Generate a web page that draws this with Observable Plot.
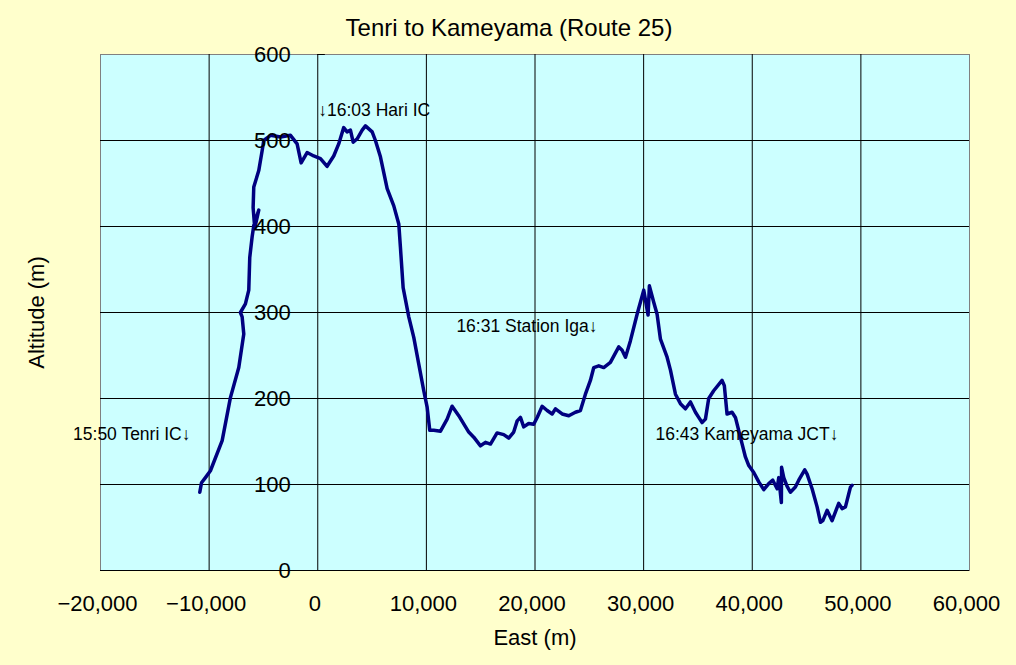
<!DOCTYPE html>
<html>
<head>
<meta charset="utf-8">
<script src="https://cdn.jsdelivr.net/npm/d3@7"></script>
<script src="https://cdn.jsdelivr.net/npm/@observablehq/plot@0.6"></script>
<style>
  html, body { margin: 0; padding: 0; background: #FFFFCC; }
  #chart { width: 1016px; height: 665px; }
</style>
</head>
<body>
<div id="chart"></div>
<script>
const title = "Tenri to Kameyama (Route 25)";
const xLabel = "East (m)";
const yLabel = "Altitude (m)";
const xTicks = [-20000, -10000, 0, 10000, 20000, 30000, 40000, 50000, 60000];
const yTicks = [0, 100, 200, 300, 400, 500, 600];

const east = [-10860, -10700, -10340, -9880, -8800, -8040, -7270, -6810, -6960, -7120, -6660, -6350, -6260, -6040, -5890, -5430, -5800, -5950, -5890, -5430, -5120, -4970, -4350, -3430, -2510, -1900, -1530, -980, -370, 250, 860, 1470, 1930, 2390, 2700, 3010, 3260, 3630, 4090, 4390, 5010, 5310, 5770, 6390, 7000, 7460, 7610, 7860, 8380, 8840, 9300, 9760, 10070, 10310, 10680, 11300, 11910, 12370, 12980, 13900, 14360, 14980, 15440, 15900, 16510, 17120, 17580, 18040, 18360, 18660, 18960, 19420, 19880, 20200, 20660, 21120, 21580, 21880, 22500, 23110, 23720, 24180, 24640, 25100, 25410, 25870, 26330, 26940, 27710, 28020, 28330, 28780, 29400, 30010, 30410, 30530, 30930, 31240, 31550, 32160, 32470, 32930, 33390, 33850, 34310, 34770, 35070, 35380, 35690, 35990, 36450, 37220, 37430, 37680, 38140, 38450, 38910, 39070, 39370, 39680, 40140, 40600, 41060, 41520, 41890, 42290, 42440, 42680, 42700, 42900, 43200, 43510, 43970, 44280, 44830, 45050, 45510, 45970, 46280, 46500, 46890, 47350, 47650, 47960, 48270, 48580, 48880, 49040, 49190];
const altitude = [91, 102, 108, 116, 151, 201, 236, 275, 295, 300, 310, 326, 364, 388, 401, 419, 398, 422, 446, 465, 488, 500, 506, 504, 506, 496, 474, 486, 482, 479, 470, 482, 496, 515, 510, 512, 498, 502, 512, 517, 510, 500, 481, 444, 424, 403, 376, 329, 295, 271, 240, 209, 190, 163, 163, 162, 176, 191, 180, 161, 155, 145, 149, 147, 160, 158, 154, 161, 174, 178, 167, 171, 170, 178, 191, 186, 182, 188, 182, 180, 184, 186, 205, 221, 236, 238, 236, 242, 260, 256, 248, 267, 298, 326, 297, 331, 312, 298, 269, 248, 233, 205, 194, 188, 196, 184, 178, 172, 176, 200, 209, 221, 215, 182, 184, 178, 155, 147, 132, 122, 114, 103, 94, 101, 105, 95, 108, 79, 120, 108, 98, 91, 97, 105, 117, 112, 95, 74, 56, 58, 70, 58, 68, 78, 72, 74, 89, 97, 99];

const startNoteText = "↓16:03 Hari IC";
const startNoteX = 50;
const startNoteY = 535;
const noteTexts = ["15:50 Tenri IC↓", "16:31 Station Iga↓", "16:43 Kameyama JCT↓"];
const noteX = [-11720, 25750, 47930];
const noteY = [158, 284, 158];

const profile = east.map((e, i) => ({east: e, alt: altitude[i]}));
const notes = noteTexts.map((t, i) => ({text: t, x: noteX[i], y: noteY[i]}));
const xGrid = xTicks.slice(1, -1);
const yGrid = yTicks.slice(0, -1);
const fmt = d3.format(",");

const chart = Plot.plot({
  width: 1016,
  height: 665,
  marginLeft: 100,
  marginRight: 47,
  marginTop: 54,
  marginBottom: 95,
  style: {background: "#FFFFCC", fontFamily: "'Liberation Sans', Arial, sans-serif", color: "black"},
  x: {domain: [-20000, 60000], axis: null},
  y: {domain: [0, 600], axis: null},
  marks: [
    Plot.frame({fill: "#CCFFFF", stroke: "#808080"}),
    Plot.ruleX(xGrid, {stroke: "black", strokeWidth: 1}),
    Plot.ruleY(yGrid, {stroke: "black", strokeWidth: 1}),
    Plot.ruleY(yTicks, {x1: 0, x2: 700, stroke: "black", strokeWidth: 1}),
    Plot.line(profile, {x: "east", y: "alt", stroke: "#000080", strokeWidth: 3.5, strokeLinejoin: "round"}),
    Plot.text(yTicks, {x: () => 0, y: d => d, text: d => String(d), textAnchor: "end", dx: -27, fontSize: 22, fill: "black"}),
    Plot.text(xTicks, {x: d => d, frameAnchor: "bottom", lineAnchor: "middle", dx: -3, dy: 33, text: d => fmt(d), fontSize: 22, fill: "black"}),
    Plot.text([xLabel], {frameAnchor: "bottom", lineAnchor: "middle", dy: 67, text: d => d, fontSize: 22, fill: "black"}),
    Plot.text([yLabel], {frameAnchor: "left", textAnchor: "middle", lineAnchor: "middle", dx: -64, rotate: -90, text: d => d, fontSize: 22, fill: "black"}),
    Plot.text([title], {frameAnchor: "top", lineAnchor: "middle", dx: -26, dy: -26, text: d => d, fontSize: 24, fill: "black"}),
    Plot.text([startNoteText], {x: () => startNoteX, y: () => startNoteY, text: d => d, textAnchor: "start", fontSize: 17.5, fill: "black"}),
    Plot.text(notes, {x: "x", y: "y", text: "text", textAnchor: "end", fontSize: 17.5, fill: "black"})
  ]
});
document.getElementById("chart").appendChild(chart);
</script>
</body>
</html>
